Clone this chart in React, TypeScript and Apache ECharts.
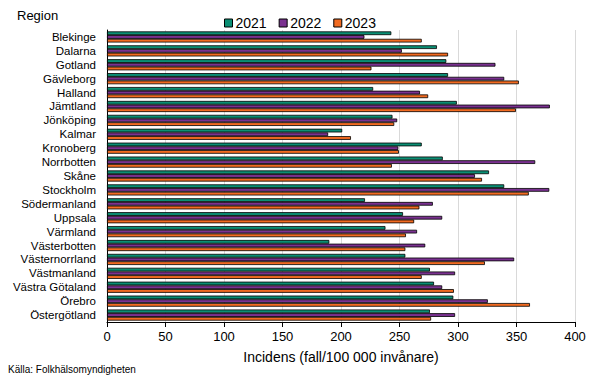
import React, { useEffect, useRef } from "react";
import * as echarts from "echarts";

const regions = [
  "Blekinge", "Dalarna", "Gotland", "Gävleborg", "Halland", "Jämtland", "Jönköping",
  "Kalmar", "Kronoberg", "Norrbotten", "Skåne", "Stockholm", "Södermanland", "Uppsala",
  "Värmland", "Västerbotten", "Västernorrland", "Västmanland", "Västra Götaland",
  "Örebro", "Östergötland",
];

const years = ["2021", "2022", "2023"];

const values2021 = [243, 282, 290, 291.5, 227.5, 299, 244, 201, 269, 287, 326.5, 339.5, 220.5, 253, 238, 190, 255, 276, 279.5, 296, 276];
const values2022 = [220, 252, 332, 339.5, 267.5, 378.5, 248, 189, 249, 366, 314.5, 378, 278.5, 286.5, 265, 272, 348, 297.5, 286.5, 325.5, 297.5];
const values2023 = [269, 291.5, 226, 352, 274.5, 349.5, 245.5, 208.5, 249.5, 243.5, 320.5, 360.5, 267, 262.5, 255.5, 255, 323, 269, 296.5, 361.5, 277];

const xTicks = { min: 0, max: 400, interval: 50 };

const colors = ["#0b8f74", "#7a3190", "#f26b21"];

export default function App() {
  const ref = useRef<HTMLDivElement>(null);
  useEffect(() => {
    if (!ref.current) return;
    const chart = echarts.init(ref.current, undefined, { renderer: "svg" });
    const seriesData = [values2021, values2022, values2023];
    chart.setOption({
      animation: false,
      textStyle: { fontFamily: "Liberation Sans" },
      grid: { left: 107, right: 30, top: 30, bottom: 57, containLabel: false },
      legend: {
        data: years,
        left: 219,
        top: 11,
        itemWidth: 8,
        itemHeight: 8,
        itemGap: 12,
        icon: "rect",
        textStyle: { fontSize: 14, color: "#000", fontFamily: "Liberation Sans", padding: [0, 0, 0, -2] },
        itemStyle: { borderColor: "#000", borderWidth: 1 },
      },
      xAxis: {
        type: "value",
        min: xTicks.min,
        max: xTicks.max,
        interval: xTicks.interval,
        axisLine: { show: true, lineStyle: { color: "#000", width: 1 } },
        axisTick: { show: true, length: 5, lineStyle: { color: "#000" } },
        axisLabel: { fontSize: 13, color: "#000", margin: 8 },
        splitLine: { show: true, lineStyle: { color: "#d9d9d9", width: 1 } },
        name: "Incidens (fall/100 000 invånare)",
        nameLocation: "middle",
        nameGap: 28,
        nameTextStyle: { fontSize: 14, color: "#000" },
      },
      yAxis: {
        type: "category",
        data: regions,
        inverse: true,
        axisLine: { show: true, lineStyle: { color: "#000", width: 1 } },
        axisTick: { show: false },
        axisLabel: { fontSize: 11.5, color: "#000", margin: 11, interval: 0 },
        splitLine: { show: false },
      },
      graphic: [
        { type: "text", left: 17, top: 9, style: { text: "Region", fontSize: 13, fill: "#000", fontFamily: "Liberation Sans" } },
        { type: "text", left: 8, top: 364, style: { text: "Källa: Folkhälsomyndigheten", fontSize: 10, fill: "#000", fontFamily: "Liberation Sans" } },
      ],
      series: years.map((y, i) => ({
        name: y,
        type: "bar",
        data: seriesData[i],
        barGap: "0%",
        barCategoryGap: "20%",
        itemStyle: { color: colors[i], borderColor: "#000", borderWidth: 0.8 },
      })),
    });
    return () => chart.dispose();
  }, []);
  return <div ref={ref} style={{ width: 605, height: 379, position: "absolute", left: 0, top: 0 }} />;
}
